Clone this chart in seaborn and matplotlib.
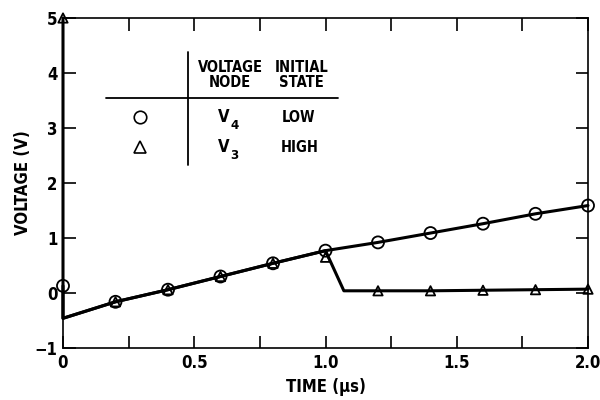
import seaborn as sns
import matplotlib.pyplot as plt
from matplotlib.ticker import MultipleLocator

# V4 (initially LOW) - circles
v4_line_t = [0.0, 0.0, 0.2, 0.4, 0.6, 0.8, 1.0, 1.2, 1.4, 1.6, 1.8, 2.0]
v4_line_v = [0.13, -0.46, -0.16, 0.06, 0.30, 0.54, 0.77, 0.92, 1.09, 1.26, 1.44, 1.59]
v4_mark_t = [0.0, 0.2, 0.4, 0.6, 0.8, 1.0, 1.2, 1.4, 1.6, 1.8, 2.0]
v4_mark_v = [0.13, -0.16, 0.06, 0.30, 0.54, 0.77, 0.92, 1.09, 1.26, 1.44, 1.59]

# V3 (initially HIGH) - triangles
v3_line_t = [0.0, 0.0, 0.2, 0.4, 0.6, 0.8, 1.0, 1.07, 1.2, 1.4, 1.6, 1.8, 2.0]
v3_line_v = [5.0, -0.46, -0.16, 0.06, 0.30, 0.54, 0.77, 0.04, 0.04, 0.04, 0.05, 0.06, 0.07]
v3_mark_t = [0.0, 0.2, 0.4, 0.6, 0.8, 1.0, 1.2, 1.4, 1.6, 1.8, 2.0]
v3_mark_v = [5.0, -0.16, 0.06, 0.30, 0.54, 0.65, 0.04, 0.04, 0.05, 0.06, 0.07]

x_ticks = [0, 0.5, 1.0, 1.5, 2.0]
x_labels = ["0", "0.5", "1.0", "1.5", "2.0"]
y_ticks = [-1, 0, 1, 2, 3, 4, 5]
y_labels = ["\u22121", "0", "1", "2", "3", "4", "5"]

sns.set_style("ticks")
plt.rcParams["font.family"] = ["DejaVu Sans"]
plt.rcParams["font.stretch"] = "condensed"
plt.rcParams["font.weight"] = "bold"
plt.rcParams["text.color"] = "black"
plt.rcParams["axes.labelcolor"] = "black"
plt.rcParams["xtick.color"] = "black"
plt.rcParams["ytick.color"] = "black"

fig = plt.figure(figsize=(6, 4), dpi=100)
ax = fig.add_axes([0.105, 0.13, 0.875, 0.825])

sns.lineplot(x=v4_line_t, y=v4_line_v, ax=ax, color="black", lw=2.2,
             estimator=None, sort=False, clip_on=False, zorder=4)
sns.lineplot(x=v3_line_t, y=v3_line_v, ax=ax, color="black", lw=2.2,
             estimator=None, sort=False, clip_on=False, zorder=4)
sns.scatterplot(x=v4_mark_t, y=v4_mark_v, ax=ax, marker="o", s=75,
                facecolor="none", edgecolor="black", linewidth=1.3,
                zorder=5, clip_on=False)
sns.scatterplot(x=v3_mark_t, y=v3_mark_v, ax=ax, marker="^", s=45,
                facecolor="none", edgecolor="black", linewidth=1.3,
                zorder=5, clip_on=False)

ax.set_xlim(0, 2.0)
ax.set_ylim(-1, 5)
ax.set_xticks(x_ticks)
ax.set_xticklabels(x_labels)
ax.xaxis.set_minor_locator(MultipleLocator(0.25))
ax.set_yticks(y_ticks)
ax.set_yticklabels(y_labels)
ax.tick_params(which="both", direction="in", top=True, right=True,
               length=9, width=1.2, labelsize=12, pad=4)
for sp in ax.spines.values():
    sp.set_linewidth(1.2)
    sp.set_color("black")

ax.set_xlabel("TIME (\u03bcs)", fontsize=12, fontweight="bold", labelpad=5)
ax.set_ylabel("VOLTAGE (V)", fontsize=12, fontweight="bold", labelpad=2)

# table-style key
tr = ax.transAxes
ax.plot([0.238, 0.238], [0.555, 0.897], color="black", lw=1.3, transform=tr)
ax.plot([0.082, 0.524], [0.758, 0.758], color="black", lw=1.3, transform=tr)
ax.text(0.318, 0.827, "VOLTAGE\nNODE", transform=tr, ha="center", va="center",
        fontsize=10.5, fontweight="bold", linespacing=1.0)
ax.text(0.455, 0.827, "INITIAL\nSTATE", transform=tr, ha="center", va="center",
        fontsize=10.5, fontweight="bold", linespacing=1.0)
ax.plot([0.147], [0.700], marker="o", ms=9, mfc="none", mec="black", mew=1.2,
        transform=tr, clip_on=False)
ax.plot([0.147], [0.609], marker="^", ms=9, mfc="none", mec="black", mew=1.2,
        transform=tr, clip_on=False)
for yy, sub, state, xs in [(0.700, "4", "LOW", 0.448), (0.609, "3", "HIGH", 0.451)]:
    ax.text(0.318, yy, "V", transform=tr, ha="right", va="center", fontsize=12)
    ax.text(0.319, yy - 0.025, sub, transform=tr, ha="left", va="center", fontsize=9.5)
    ax.text(xs, yy, state, transform=tr, ha="center", va="center",
            fontsize=10.5, fontweight="bold")

fig.savefig("out.png", dpi=100)
